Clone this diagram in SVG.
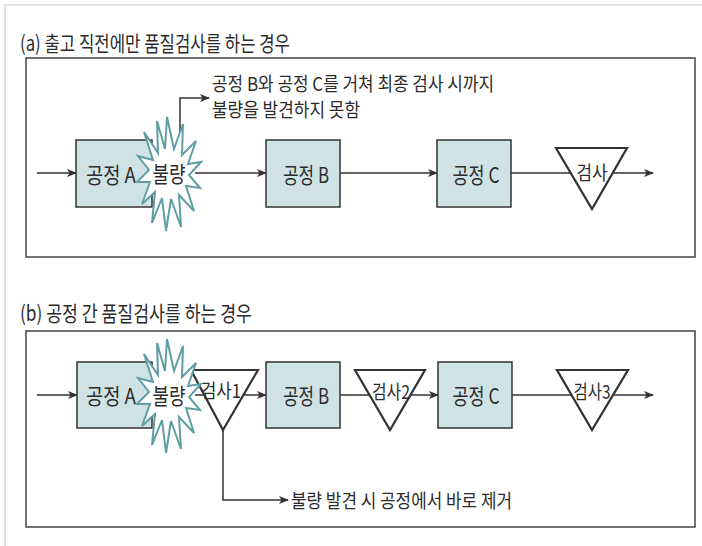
<svg xmlns="http://www.w3.org/2000/svg" xmlns:xlink="http://www.w3.org/1999/xlink" width="702" height="546" viewBox="0 0 702 546">
<style>
text{font-family:"Noto Sans CJK KR","Noto Sans",sans-serif;fill:#2b2b2b;}
.ttl{font-size:21px;}
.lbl{font-size:22px;text-anchor:middle;}
.tri-l{font-size:19px;text-anchor:middle;}
.note{font-size:19px;}
.frame{fill:none;stroke:#444;stroke-width:1.5;}
.box{fill:#cfe3e5;stroke:#333;stroke-width:1.5;}
.tri{fill:#fff;stroke:#333;stroke-width:2.2;stroke-linejoin:miter;}
.burst{fill:#fff;stroke:#5f9ea4;stroke-width:2;stroke-linejoin:miter;}
.ln{fill:none;stroke:#333;stroke-width:1.5;}
.arr{marker-end:url(#ah);}
</style>
<defs>
<marker id="ah" markerUnits="userSpaceOnUse" markerWidth="10" markerHeight="8" refX="9" refY="4" orient="auto">
<path d="M0,0 L10,4 L0,8 L2.5,4 Z" fill="#333"/>
</marker>
<polygon id="burstShape" class="burst" points="-2,-57 5,-25 14,-50 13,-19 27,-33 19,-10 32,-12 20,1 31,14 17,12 25,37 10,21 12,53 2,25 -3,57 -7,24 -17,49 -14,18 -27,30 -19,8 -32,8 -20,-4 -31,-18 -16,-14 -25,-42 -11,-21 -12,-53 -4,-25"/>
</defs>
<rect width="702" height="546" fill="#fff"/>
<path d="M5,546 V5 H702" fill="none" stroke="#c8c8c8" stroke-width="1.2"/>

<!-- Section (a) -->
<text id="title-a" class="ttl" x="20" y="51" textLength="270" lengthAdjust="spacingAndGlyphs">(a) 출고 직전에만 품질검사를 하는 경우</text>
<rect id="frame-a" class="frame" x="26" y="58" width="669" height="199"/>

<g id="connectors-a">
<path class="ln arr" d="M37,173 H76"/>
<path class="ln arr" d="M180,150 V98 H209"/>
<path class="ln arr" d="M195,173 H266"/>
<path class="ln arr" d="M340,173 H437"/>
<path class="ln arr" d="M511,173 H653"/>
</g>

<g id="note-a">
<text class="note" x="212" y="91" textLength="282" lengthAdjust="spacingAndGlyphs">공정 B와 공정 C를 거쳐 최종 검사 시까지</text>
<text class="note" x="212" y="117" textLength="148" lengthAdjust="spacingAndGlyphs">불량을 발견하지 못함</text>
</g>

<g id="a-process-a">
<rect class="box" x="76" y="140" width="76" height="67"/>
<text class="lbl" x="111" y="183" textLength="50" lengthAdjust="spacingAndGlyphs">공정 A</text>
</g>
<g id="a-defect">
<use xlink:href="#burstShape" transform="translate(169,174)"/>
<text class="lbl" x="169" y="182" textLength="33" lengthAdjust="spacingAndGlyphs">불량</text>
</g>
<g id="a-process-b">
<rect class="box" x="266" y="140" width="74" height="67"/>
<text class="lbl" x="306" y="183" textLength="46" lengthAdjust="spacingAndGlyphs">공정 B</text>
</g>
<g id="a-process-c">
<rect class="box" x="437" y="140" width="74" height="67"/>
<text class="lbl" x="476" y="183" textLength="47" lengthAdjust="spacingAndGlyphs">공정 C</text>
</g>
<g id="a-inspect">
<polygon class="tri" points="556,148 627,148 592,209"/>
<text class="tri-l" x="592" y="180" textLength="31" lengthAdjust="spacingAndGlyphs">검사</text>
</g>

<!-- Section (b) -->
<text id="title-b" class="ttl" x="20" y="321" textLength="232" lengthAdjust="spacingAndGlyphs">(b) 공정 간 품질검사를 하는 경우</text>
<rect id="frame-b" class="frame" x="26" y="331" width="669" height="196"/>

<g id="connectors-b">
<path class="ln arr" d="M37,395 H77"/>
<path class="ln" d="M195,395 H205"/>
<path class="ln arr" d="M243,395 H266"/>
<path class="ln arr" d="M340,395 H438"/>
<path class="ln arr" d="M512,395 H653"/>
<path class="ln arr" d="M223,430 V500 H288"/>
</g>

<g id="b-process-a">
<rect class="box" x="77" y="362" width="75" height="66"/>
<text class="lbl" x="111" y="404" textLength="50" lengthAdjust="spacingAndGlyphs">공정 A</text>
</g>
<g id="b-inspect-1">
<polygon class="tri" points="191,370 258,370 223,430"/>
<text class="tri-l" x="221" y="398" textLength="40" lengthAdjust="spacingAndGlyphs">검사1</text>
</g>
<g id="b-defect">
<use xlink:href="#burstShape" transform="translate(169,396)"/>
<text class="lbl" x="169" y="404" textLength="33" lengthAdjust="spacingAndGlyphs">불량</text>
</g>
<g id="b-process-b">
<rect class="box" x="266" y="362" width="74" height="66"/>
<text class="lbl" x="306" y="404" textLength="46" lengthAdjust="spacingAndGlyphs">공정 B</text>
</g>
<g id="b-inspect-2">
<polygon class="tri" points="355,370 425,370 390,430"/>
<text class="tri-l" x="391" y="399" textLength="38" lengthAdjust="spacingAndGlyphs">검사2</text>
</g>
<g id="b-process-c">
<rect class="box" x="438" y="362" width="74" height="66"/>
<text class="lbl" x="476" y="404" textLength="47" lengthAdjust="spacingAndGlyphs">공정 C</text>
</g>
<g id="b-inspect-3">
<polygon class="tri" points="557,370 628,370 592,430"/>
<text class="tri-l" x="592" y="399" textLength="37" lengthAdjust="spacingAndGlyphs">검사3</text>
</g>
<g id="note-b">
<text class="note" x="291" y="508" textLength="221" lengthAdjust="spacingAndGlyphs">불량 발견 시 공정에서 바로 제거</text>
</g>
</svg>
